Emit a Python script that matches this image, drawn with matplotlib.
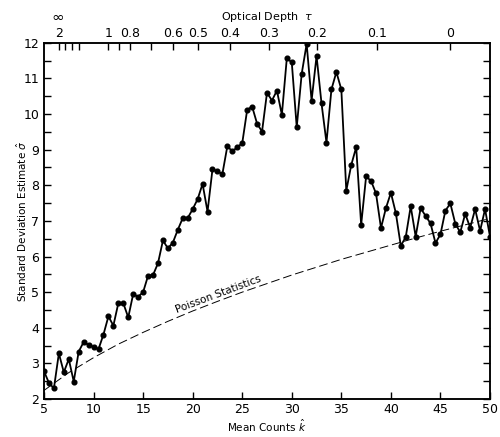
import matplotlib
matplotlib.use("Agg")
import matplotlib.pyplot as plt
from matplotlib.ticker import MultipleLocator, FixedLocator, NullFormatter

# Mean counts (x) and standard deviation estimate (y)
mean_counts = [
    5.0, 5.5, 6.0, 6.5, 7.0, 7.5, 8.0, 8.5, 9.0, 9.5,
    10.0, 10.5, 11.0, 11.5, 12.0, 12.5, 13.0, 13.5, 14.0, 14.5,
    15.0, 15.5, 16.0, 16.5, 17.0, 17.5, 18.0, 18.5, 19.0, 19.5,
    20.0, 20.5, 21.0, 21.5, 22.0, 22.5, 23.0, 23.5, 24.0, 24.5,
    25.0, 25.5, 26.0, 26.5, 27.0, 27.5, 28.0, 28.5, 29.0, 29.5,
    30.0, 30.5, 31.0, 31.5, 32.0, 32.5, 33.0, 33.5, 34.0, 34.5,
    35.0, 35.5, 36.0, 36.5, 37.0, 37.5, 38.0, 38.5, 39.0, 39.5,
    40.0, 40.5, 41.0, 41.5, 42.0, 42.5, 43.0, 43.5, 44.0, 44.5,
    45.0, 45.5, 46.0, 46.5, 47.0, 47.5, 48.0, 48.5, 49.0, 49.5,
    50.0,
]
sigma_estimate = [
    2.78, 2.45, 2.30, 3.28, 2.75, 3.12, 2.49, 3.33, 3.60, 3.52,
    3.46, 3.40, 3.81, 4.32, 4.06, 4.69, 4.69, 4.29, 4.95, 4.87,
    5.00, 5.46, 5.48, 5.81, 6.45, 6.23, 6.39, 6.75, 7.08, 7.08,
    7.33, 7.61, 8.04, 7.26, 8.45, 8.39, 8.32, 9.10, 8.95, 9.07,
    9.18, 10.12, 10.21, 9.73, 9.51, 10.60, 10.38, 10.66, 9.98, 11.57,
    11.45, 9.63, 11.13, 11.97, 10.38, 11.63, 10.30, 9.20, 10.69, 11.18,
    10.69, 7.85, 8.57, 9.07, 6.89, 8.25, 8.12, 7.77, 6.80, 7.36,
    7.79, 7.22, 6.30, 6.55, 7.41, 6.56, 7.36, 7.14, 6.93, 6.38,
    6.62, 7.29, 7.49, 6.92, 6.68, 7.20, 6.81, 7.33, 6.72, 7.33,
    6.56,
]

# Poisson statistics reference curve
poisson_k = [5, 7.5, 10, 12.5, 15, 17.5, 20, 22.5, 25, 27.5, 30,
             32.5, 35, 37.5, 40, 42.5, 45, 47.5, 50]
poisson_sigma = [2.24, 2.74, 3.16, 3.54, 3.87, 4.18, 4.47, 4.74, 5.00, 5.24,
                 5.48, 5.70, 5.92, 6.12, 6.32, 6.52, 6.71, 6.89, 7.07]

# Top axis: optical depth tau, located at mean-count positions
tau_labels = ["2", "1", "0.8", "0.6", "0.5", "0.4", "0.3", "0.2", "0.1", "0"]
tau_label_k = [6.54, 11.49, 13.68, 17.99, 20.57, 23.77, 27.73, 32.52, 38.57, 45.97]
tau_minor_k = [7.12, 7.79, 8.56, 12.6, 15.8]
tau_inf_k = 6.4

x_ticks = [5, 10, 15, 20, 25, 30, 35, 40, 45, 50]
y_ticks = [2, 3, 4, 5, 6, 7, 8, 9, 10, 11, 12]

fig = plt.figure(figsize=(5, 4.37), dpi=100)
ax = fig.add_axes([0.088, 0.087, 0.892, 0.815])

ax.plot(poisson_k, poisson_sigma, color="black", lw=0.7,
        linestyle=(0, (9, 4)), zorder=2)
ax.plot(mean_counts, sigma_estimate, color="black", lw=1.3,
        marker="o", markersize=3.4, zorder=3)

ax.set_xlim(5, 50)
ax.set_ylim(2, 12)
ax.set_xticks(x_ticks)
ax.set_yticks(y_ticks)
ax.yaxis.set_minor_locator(MultipleLocator(0.5))
ax.tick_params(axis="both", which="both", direction="in", labelsize=9,
               width=1.0, top=False, right=True, labelright=False)
ax.tick_params(axis="y", which="both", length=5)
ax.tick_params(axis="x", which="major", length=5, pad=3)
for s in ax.spines.values():
    s.set_linewidth(1.1)

ax.set_xlabel(r"Mean Counts $\hat{k}$", fontsize=7.5, labelpad=1)
ax.set_ylabel(r"Standard Deviation Estimate $\hat{\sigma}$", fontsize=7.5,
              labelpad=-4)

ax.text(22.6, 4.95, "Poisson Statistics", rotation=20.5, fontsize=7.5,
        ha="center", va="center", rotation_mode="anchor")

ax2 = ax.twiny()
ax2.set_xlim(ax.get_xlim())
ax2.xaxis.set_major_locator(FixedLocator(tau_label_k))
ax2.set_xticklabels(tau_labels)
ax2.xaxis.set_minor_locator(FixedLocator(tau_minor_k))
ax2.xaxis.set_minor_formatter(NullFormatter())
ax2.tick_params(axis="x", which="both", direction="in", length=5,
                labelsize=9, pad=2, width=1.0)
ax2.set_xlabel(r"Optical Depth  $\tau$", fontsize=8, labelpad=5)
for s in ax2.spines.values():
    s.set_linewidth(1.1)

ax.text(tau_inf_k, 1.075, r"$\infty$", transform=ax.get_xaxis_transform(),
        fontsize=11, ha="center", va="center", style="italic")

fig.savefig("out.png", dpi=100)
